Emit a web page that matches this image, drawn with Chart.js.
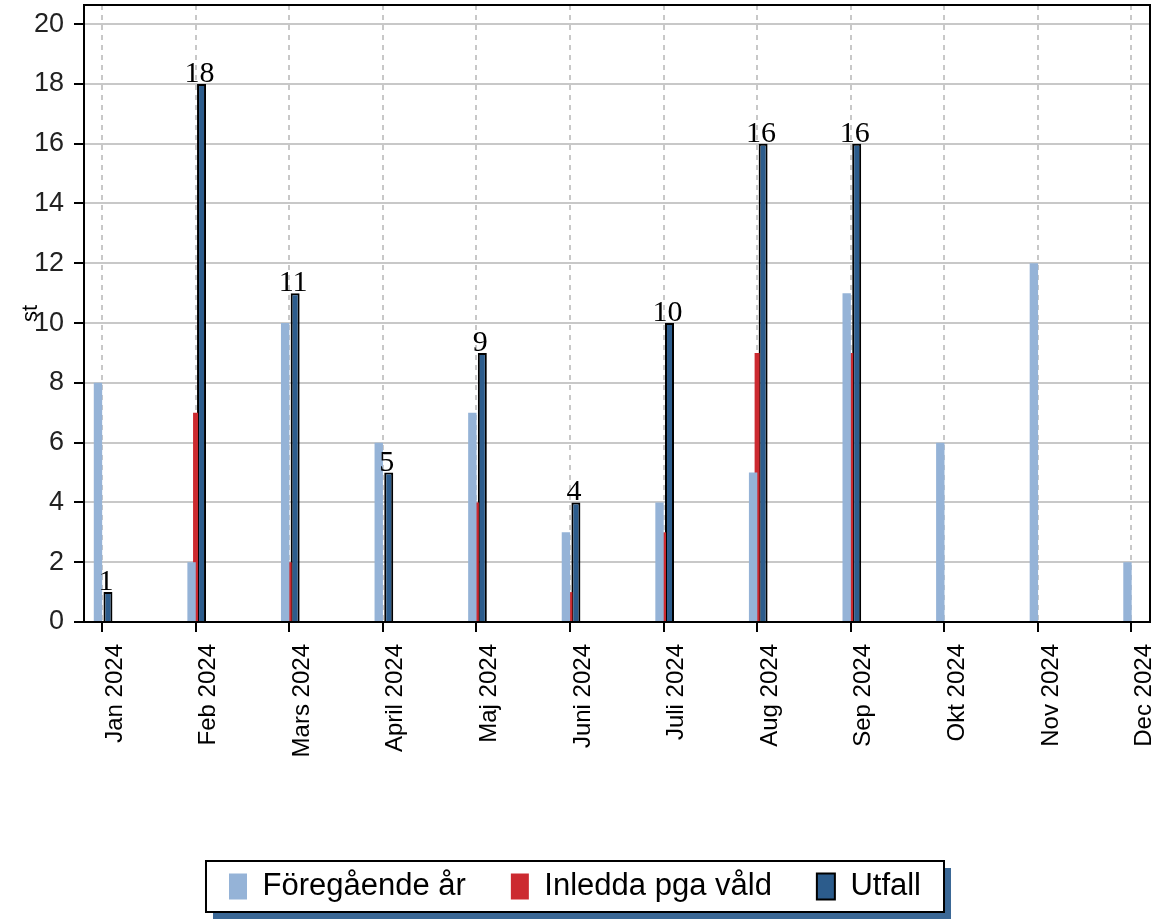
<!DOCTYPE html>
<html><head><meta charset="utf-8">
<script src="https://cdn.jsdelivr.net/npm/chart.js@4"></script>
<style>html,body{margin:0;padding:0;background:#fff;overflow:hidden}</style>
</head><body>
<canvas id="c" width="1158" height="921"></canvas>
<script>
const categories = ['Jan 2024','Feb 2024','Mars 2024','April 2024','Maj 2024','Juni 2024','Juli 2024','Aug 2024','Sep 2024','Okt 2024','Nov 2024','Dec 2024'];
const foregaendeAr   = [8, 2, 10, 6, 7, 3, 4, 5, 11, 6, 12, 2];
const inleddaPgaVald = [0, 7, 2, 0, 4, 1, 3, 9, 9, null, null, null];
const utfall         = [1, 18, 11, 5, 9, 4, 10, 16, 16, null, null, null];
const yTickValues    = [0, 2, 4, 6, 8, 10, 12, 14, 16, 18, 20];
const seriesNames    = ['Föregående år', 'Inledda pga våld', 'Utfall'];
const yTitle = 'st';

const toPoints = arr => arr.map((v, i) => ({ x: i, y: v }));

const frame = {
  id: 'frame',
  afterDraw(chart) {
    const { ctx, chartArea: a } = chart;
    ctx.save();
    ctx.strokeStyle = '#000';
    ctx.lineWidth = 2;
    ctx.beginPath();
    ctx.moveTo(a.left, a.top);
    ctx.lineTo(a.right, a.top);
    ctx.lineTo(a.right, a.bottom);
    ctx.stroke();
    ctx.restore();
  }
};

const legendBox = {
  id: 'legendBox',
  beforeDraw(chart) {
    const hb = chart.legend && chart.legend.legendHitBoxes;
    if (!hb || !hb.length) return;
    const ctx = chart.ctx;
    let l = Infinity, r = -Infinity, t = Infinity, b = -Infinity;
    hb.forEach(h => { l = Math.min(l, h.left); r = Math.max(r, h.left + h.width); t = Math.min(t, h.top); b = Math.max(b, h.top + h.height); });
    const x0 = l - 23, x1 = r + 23, y0 = t - 10, y1 = b + 10;
    ctx.save();
    ctx.fillStyle = '#3b6896';
    ctx.fillRect(x0 + 7, y0 + 7, x1 - x0, y1 - y0);
    ctx.fillStyle = '#fff';
    ctx.fillRect(x0, y0, x1 - x0, y1 - y0);
    ctx.strokeStyle = '#000';
    ctx.lineWidth = 2;
    ctx.strokeRect(x0, y0, x1 - x0, y1 - y0);
    ctx.restore();
  }
};

const valueLabels = {
  id: 'valueLabels',
  afterDatasetsDraw(chart) {
    const ctx = chart.ctx;
    const meta = chart.getDatasetMeta(2);
    ctx.save();
    ctx.font = '30px "Liberation Serif", serif';
    ctx.fillStyle = '#000';
    ctx.textAlign = 'center';
    ctx.textBaseline = 'alphabetic';
    meta.data.forEach((el, i) => {
      const v = utfall[i];
      if (v === null || v === undefined) return;
      ctx.fillText(String(v), el.x - 2, el.y - 2);
    });
    ctx.restore();
  }
};

new Chart(document.getElementById('c'), {
  type: 'bar',
  data: {
    datasets: [
      { label: seriesNames[0], data: toPoints(foregaendeAr), backgroundColor: '#95b3d7', borderWidth: 0,
        categoryPercentage: 0.128, barPercentage: 2.1 },
      { label: seriesNames[1], data: toPoints(inleddaPgaVald), backgroundColor: '#cc2a30', borderWidth: 0,
        categoryPercentage: 0.15, barPercentage: 1.07 },
      { label: seriesNames[2], data: toPoints(utfall), backgroundColor: '#2c5c8c', borderColor: '#000', borderWidth: 2,
        categoryPercentage: 0.192, barPercentage: 1.5 }
    ]
  },
  options: {
    responsive: false,
    animation: false,
    devicePixelRatio: 1,
    layout: { padding: { top: 5, right: 8, left: 0, bottom: 9 } },
    plugins: {
      legend: {
        position: 'bottom',
        labels: {
          boxWidth: 18, boxHeight: 26, padding: 45, color: '#000',
          font: { family: '"Liberation Sans", Arial, sans-serif', size: 31 }
        }
      },
      tooltip: { enabled: false }
    },
    scales: {
      x: {
        type: 'linear',
        offset: false,
        min: -0.192, max: 11.198,
        afterFit(scale) {
          scale.height = 921 - 9 - scale.chart.legend.height - 622;
          scale.paddingLeft = 0; scale.paddingRight = 0;
        },
        afterBuildTicks(scale) { scale.ticks = categories.map((c, i) => ({ value: i })); },
        ticks: {
          stepSize: 1, includeBounds: false, autoSkip: false,
          maxRotation: 90, minRotation: 90, labelOffset: 13, padding: 12,
          color: '#000',
          font: { family: '"Liberation Sans", Arial, sans-serif', size: 24 },
          callback: v => categories[v] ?? ''
        },
        grid: { offset: false, color: '#c8c8c8', lineWidth: 2, tickColor: '#000', tickLength: 10, tickWidth: 2, drawOnChartArea: true },
        border: { color: '#000', width: 2, dash: [5, 5], dashOffset: 0 }
      },
      y: {
        min: 0, max: 20.64,
        afterFit(scale) { scale.width = 84; scale.paddingTop = 0; scale.paddingBottom = 0; },
        afterBuildTicks(scale) { scale.ticks = yTickValues.map(v => ({ value: v })); },
        ticks: {
          stepSize: 2, includeBounds: false, padding: 10, color: '#222',
          font: { family: '"Liberation Sans", Arial, sans-serif', size: 27 }
        },
        grid: { color: '#c8c8c8', lineWidth: 2, tickColor: '#000', tickLength: 10, tickWidth: 2 },
        border: { color: '#000', width: 2 },
        title: { display: true, text: yTitle, color: '#000', padding: { top: 18, bottom: 0 },
          font: { family: '"Liberation Sans", Arial, sans-serif', size: 22 } }
      }
    }
  },
  plugins: [legendBox, frame, valueLabels]
});
</script>
</body></html>
